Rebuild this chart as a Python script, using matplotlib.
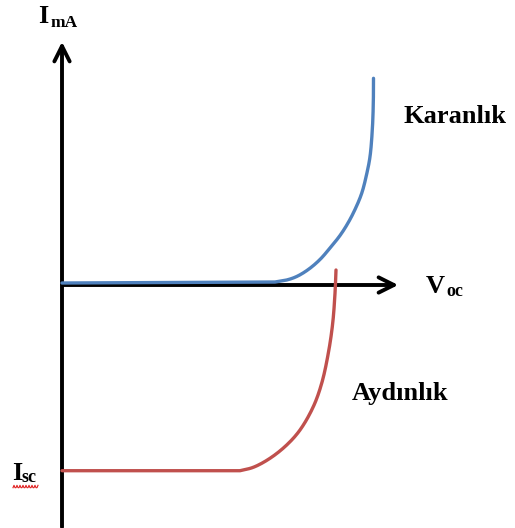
import matplotlib.pyplot as plt
import numpy as np

# I-V eğrileri: karanlık ve aydınlık durum (piksel koordinatları)
dark_x = [62, 275, 286.7, 296.7, 308.3, 320, 330, 340, 348, 355, 361.7, 366.7, 370, 372.3, 373.3, 373.5]
dark_y = [283, 282, 280, 276.5, 269.5, 259.5, 248, 235.5, 223, 209.5, 193.3, 174, 156.7, 130, 103.3, 78.3]

light_x = [62, 240, 253.3, 270, 286.7, 300, 313.3, 321.7, 328.3, 332.7, 335, 336]
light_y = [470.7, 470.7, 467.3, 458.3, 445, 430, 406.7, 383.3, 353.3, 323.3, 293.3, 270]


def smooth(xs, ys, n=16):
    # merkezcil Catmull-Rom: noktalardan geçer, taşma yapmaz
    p = np.column_stack([xs, ys]).astype(float)
    p = np.vstack([2 * p[0] - p[1], p, 2 * p[-1] - p[-2]])
    out = []
    for i in range(1, len(p) - 2):
        P0, P1, P2, P3 = p[i - 1], p[i], p[i + 1], p[i + 2]
        t0 = 0.0
        t1 = t0 + np.linalg.norm(P1 - P0) ** 0.5
        t2 = t1 + np.linalg.norm(P2 - P1) ** 0.5
        t3 = t2 + np.linalg.norm(P3 - P2) ** 0.5
        t = np.linspace(t1, t2, n, endpoint=False)[:, None]
        A1 = (t1 - t) / (t1 - t0) * P0 + (t - t0) / (t1 - t0) * P1
        A2 = (t2 - t) / (t2 - t1) * P1 + (t - t1) / (t2 - t1) * P2
        A3 = (t3 - t) / (t3 - t2) * P2 + (t - t2) / (t3 - t2) * P3
        B1 = (t2 - t) / (t2 - t0) * A1 + (t - t0) / (t2 - t0) * A2
        B2 = (t3 - t) / (t3 - t1) * A2 + (t - t1) / (t3 - t1) * A3
        out.append((t2 - t) / (t2 - t1) * B1 + (t - t1) / (t2 - t1) * B2)
    out.append(p[-2][None, :])
    out = np.vstack(out)
    return out[:, 0], out[:, 1]


def curve(xs, ys):
    # düz kısım olduğu gibi, bükülen kısım yumuşatılmış
    sx, sy = smooth(xs[1:], ys[1:])
    return np.r_[xs[0], sx], np.r_[ys[0], sy]


W, H = 515, 528
fig = plt.figure(figsize=(W / 100, H / 100), dpi=100)
ax = fig.add_axes([0, 0, 1, 1])
ax.set_xlim(0, W)
ax.set_ylim(H, 0)
ax.axis('off')

# eksenler
head = '->,head_length=1.1,head_width=0.55'
ax.annotate('', xy=(62, 39), xytext=(62, H + 2),
            arrowprops=dict(arrowstyle=head, lw=2.8, color='black'))
ax.annotate('', xy=(401, 285), xytext=(60, 285),
            arrowprops=dict(arrowstyle=head, lw=2.8, color='black'))

ax.plot(*curve(dark_x, dark_y), color='#4F81BD', lw=2.4, solid_capstyle='round', zorder=3)
ax.plot(*curve(light_x, light_y), color='#C0504D', lw=2.4, solid_capstyle='round', zorder=3)

font = dict(family='Liberation Serif', weight='bold', color='black')
ax.text(38, 23, 'I', fontsize=19, **font)
ax.text(51, 27, 'mA', fontsize=12.5, **font)
ax.text(404, 123, 'Karanlık', fontsize=19, **font)
ax.text(426, 293, 'V', fontsize=19, **font)
ax.text(446, 296, 'oc', fontsize=13, **font)
ax.text(352, 400, 'Aydınlık', fontsize=19, **font)
ax.text(12, 480, 'I', fontsize=19, **font)
ax.text(22, 482.5, 'sc', fontsize=13, **font)

# yazım denetimi alt çizgisi
wx = np.arange(13, 39, 1.0)
ax.plot(wx, 486.5 + 1.2 * np.where(np.arange(len(wx)) % 3 == 1, -1, 1), color='#E02020', lw=0.8)

fig.savefig('out.png', dpi=100)
